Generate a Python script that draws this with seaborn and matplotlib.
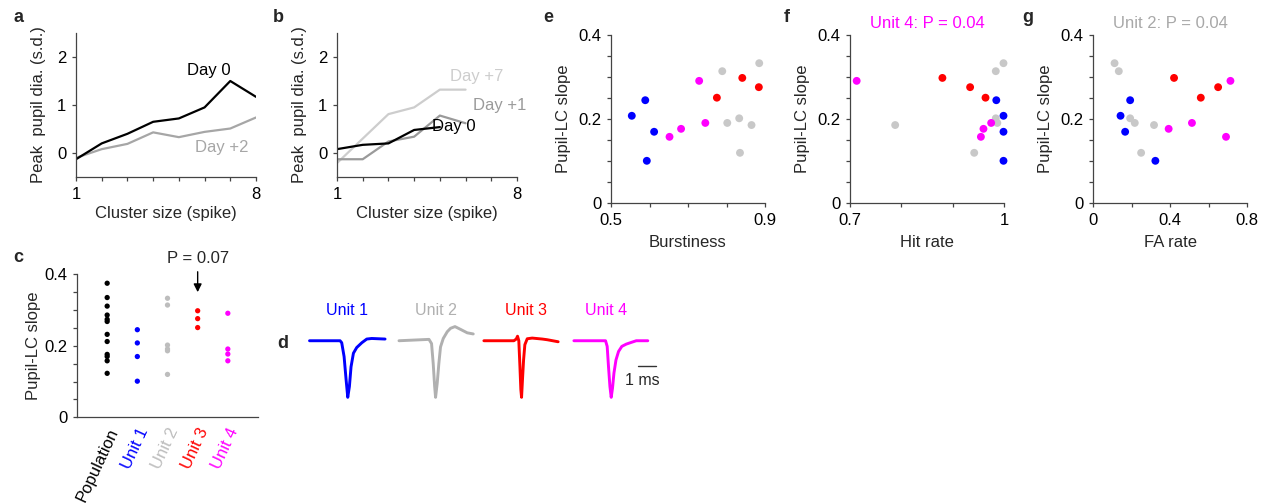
import numpy as np
import pandas as pd
import matplotlib
matplotlib.use('Agg')
import matplotlib.pyplot as plt
import seaborn as sns

sns.set_style('ticks')
plt.rcParams['font.family'] = ['Liberation Sans', 'DejaVu Sans']
plt.rcParams['font.size'] = 12
plt.rcParams['axes.edgecolor'] = '#444444'
plt.rcParams['xtick.color'] = '#444444'
plt.rcParams['ytick.color'] = '#444444'
plt.rcParams['xtick.labelcolor'] = 'black'
plt.rcParams['ytick.labelcolor'] = 'black'

# ---------------- data ----------------
# panel a
a_cluster = [1, 2, 3, 4, 5, 6, 7, 8]
a_day0 = [-0.13, 0.20, 0.40, 0.65, 0.72, 0.95, 1.50, 1.17]
a_day2 = [-0.10, 0.08, 0.19, 0.43, 0.33, 0.44, 0.51, 0.74]
# panel b
b_cluster_day0 = [1, 2, 3, 4, 5]
b_day0 = [0.08, 0.17, 0.20, 0.48, 0.54]
b_cluster = [1, 2, 3, 4, 5, 6]
b_day1 = [-0.13, -0.13, 0.24, 0.34, 0.78, 0.62]
b_day7 = [-0.21, 0.30, 0.81, 0.95, 1.32, 1.32]

# panel c
units = ['Unit 1', 'Unit 2', 'Unit 3', 'Unit 4']
unit_colors = ['#0000FF', '#BDBDBD', '#FF0000', '#FF00FF']
population_slope = [0.375, 0.335, 0.311, 0.286, 0.274, 0.268, 0.232, 0.212,
                    0.176, 0.170, 0.158, 0.123]
unit1_slope = [0.245, 0.208, 0.170, 0.101]
unit2_slope = [0.333, 0.314, 0.202, 0.191, 0.186, 0.120]
unit3_slope = [0.298, 0.276, 0.251]
unit4_slope = [0.291, 0.191, 0.177, 0.158]

# panels e, f, g (same order as slopes)
unit1_burst = [0.589, 0.554, 0.612, 0.593]
unit2_burst = [0.885, 0.789, 0.833, 0.802, 0.865, 0.835]
unit3_burst = [0.841, 0.884, 0.775]
unit4_burst = [0.729, 0.745, 0.682, 0.652]

unit1_hit = [0.985, 0.999, 0.999, 0.999]
unit2_hit = [0.999, 0.984, 0.984, 0.987, 0.788, 0.942]
unit3_hit = [0.880, 0.934, 0.964]
unit4_hit = [0.713, 0.975, 0.960, 0.955]

unit1_fa = [0.193, 0.143, 0.167, 0.324]
unit2_fa = [0.112, 0.134, 0.193, 0.217, 0.317, 0.250]
unit3_fa = [0.421, 0.650, 0.560]
unit4_fa = [0.714, 0.514, 0.393, 0.691]

# panel d waveforms (time ms rel. trough, normalized amplitude)
wf1_t = [-2.09, -0.42, -0.33, -0.20, -0.09, 0.00, 0.09, 0.18, 0.31, 0.49, 0.77, 1.04, 1.31, 2.04]
wf1_a = [0.00, 0.00, -0.035, -0.28, -0.69, -1.00, -0.81, -0.46, -0.22, -0.12, -0.035, 0.03, 0.04, 0.03]
wf2_t = [-2.00, -0.36, -0.22, -0.13, -0.05, 0.00, 0.09, 0.18, 0.27, 0.42, 0.64, 0.82, 1.06, 1.37, 1.73, 2.06]
wf2_a = [0.00, 0.024, -0.05, -0.40, -0.81, -1.00, -0.75, -0.40, -0.11, 0.04, 0.16, 0.22, 0.25, 0.20, 0.14, 0.12]
wf3_t = [-2.06, -0.42, -0.29, -0.22, -0.15, -0.09, -0.04, 0.00, 0.05, 0.11, 0.18, 0.31, 0.58, 1.13, 1.40, 2.00]
wf3_a = [0.00, 0.00, 0.03, 0.08, 0.00, -0.45, -0.86, -1.00, -0.69, -0.34, -0.07, 0.035, 0.047, 0.03, 0.018, -0.018]
wf4_t = [-2.04, -0.31, -0.22, -0.15, -0.07, 0.00, 0.07, 0.15, 0.26, 0.40, 0.58, 0.82, 1.09, 1.37, 2.00]
wf4_a = [0.00, 0.00, -0.10, -0.45, -0.81, -1.00, -0.84, -0.57, -0.34, -0.19, -0.10, -0.06, -0.03, 0.00, 0.00]

# ---------------- figure ----------------
W, H = 1266, 503
fig = plt.figure(figsize=(W / 100, H / 100), dpi=100)


def px_axes(l, r, t, b):
    return fig.add_axes([l / W, 1 - b / H, (r - l) / W, (b - t) / H])


def style(ax):
    sns.despine(ax=ax)
    for s in ['left', 'bottom']:
        ax.spines[s].set_linewidth(0.9)
    ax.tick_params(length=3, width=0.9, pad=4, labelsize=12)
    ax.tick_params(which='minor', length=3, width=0.9)


GRAY_D2 = '#A6A6A6'
GRAY_D1 = '#9A9A9A'
GRAY_D7 = '#CDCDCD'

# panel a
ax_a = px_axes(76, 256, 33, 177)
sns.lineplot(x=a_cluster, y=a_day2, ax=ax_a, color=GRAY_D2, lw=1.6)
sns.lineplot(x=a_cluster, y=a_day0, ax=ax_a, color='black', lw=1.6)
ax_a.text(5.32, 1.72, 'Day 0', color='black', va='center', ha='left', fontsize=12)
ax_a.text(5.63, 0.12, 'Day +2', color=GRAY_D2, va='center', ha='left', fontsize=12)

# panel b
ax_b = px_axes(337, 517, 33, 177)
sns.lineplot(x=b_cluster, y=b_day7, ax=ax_b, color=GRAY_D7, lw=1.6)
sns.lineplot(x=b_cluster, y=b_day1, ax=ax_b, color=GRAY_D1, lw=1.6)
sns.lineplot(x=b_cluster_day0, y=b_day0, ax=ax_b, color='black', lw=1.6)
ax_b.text(5.40, 1.60, 'Day +7', color=GRAY_D7, va='center', ha='left', fontsize=12)
ax_b.text(6.29, 0.98, 'Day +1', color=GRAY_D1, va='center', ha='left', fontsize=12)
ax_b.text(4.70, 0.56, 'Day 0', color='black', va='center', ha='left', fontsize=12)

for ax in (ax_a, ax_b):
    style(ax)
    ax.set_xlim(1, 8)
    ax.set_ylim(-0.5, 2.5)
    ax.set_xticks(a_cluster)
    ax.set_xticklabels(['1', '', '', '', '', '', '', '8'])
    ax.set_yticks([0, 1, 2])
    ax.set_yticklabels(['0', '1', '2'])
    ax.set_xlabel('Cluster size (spike)', fontsize=12, labelpad=3)
    ax.set_ylabel('Peak  pupil dia. (s.d.)', fontsize=12, labelpad=8)

# panel c
ax_c = px_axes(77, 258, 274.3, 417.3)
cats = ['Population'] + units
df_c = pd.DataFrame({
    'group': (['Population'] * len(population_slope) + ['Unit 1'] * len(unit1_slope)
              + ['Unit 2'] * len(unit2_slope) + ['Unit 3'] * len(unit3_slope)
              + ['Unit 4'] * len(unit4_slope)),
    'slope': population_slope + unit1_slope + unit2_slope + unit3_slope + unit4_slope,
})
pal_c = dict(zip(cats, ['black'] + unit_colors))
sns.stripplot(data=df_c, x='group', y='slope', hue='group', order=cats, palette=pal_c,
              jitter=False, size=3.8, ax=ax_c, legend=False, linewidth=0)
style(ax_c)
ax_c.set_xlim(-1, 5)
ax_c.set_ylim(0, 0.4)
ax_c.set_yticks([0, 0.2, 0.4])
ax_c.set_yticklabels(['0', '0.2', '0.4'])
ax_c.set_yticks(np.arange(0, 0.401, 0.05), minor=True)
ax_c.set_xticks(range(5))
ax_c.set_xticklabels(cats, rotation=65, ha='right', rotation_mode='anchor')
ax_c.tick_params(axis='x', length=0, pad=6)
for lab, col in zip(ax_c.get_xticklabels(), ['black'] + unit_colors):
    lab.set_color(col)
ax_c.set_xlabel('')
ax_c.set_ylabel('Pupil-LC slope', fontsize=12, labelpad=2)
ax_c.annotate('P = 0.07', xy=(3, 0.35), xytext=(3, 0.445), ha='center', va='center',
              fontsize=12, annotation_clip=False,
              arrowprops=dict(arrowstyle='-|>', color='black', lw=1.0,
                              mutation_scale=12, shrinkA=2, shrinkB=0))

# panel d
ax_d = px_axes(300, 665, 300, 410)
offsets = [0.0, 4.8, 9.5, 14.4]
wfs = [(wf1_t, wf1_a), (wf2_t, wf2_a), (wf3_t, wf3_a), (wf4_t, wf4_a)]
wf_colors = ['#0000FF', '#B0B0B0', '#FF0000', '#FF00FF']
label_x = [-0.05, 4.8, 9.75, 14.1]
for (t, a), off, col, u, lx in zip(wfs, offsets, wf_colors, units, label_x):
    sns.lineplot(x=np.array(t) + off, y=a, ax=ax_d, color=col, lw=2.1, sort=False)
    ax_d.text(lx, 0.54, u, color=col, ha='center', va='center', fontsize=11.5)
ax_d.plot([15.86, 16.86], [-0.44, -0.44], color='#333333', lw=1.0)
ax_d.text(16.1, -0.71, '1 ms', ha='center', va='center', fontsize=11.5)
ax_d.set_xlim(-2.61, 17.34)
ax_d.set_ylim(-1.224, 0.72)
ax_d.axis('off')

# panels e, f, g
df_s = pd.DataFrame({
    'unit': (['Unit 1'] * 4 + ['Unit 2'] * 6 + ['Unit 3'] * 3 + ['Unit 4'] * 4),
    'slope': unit1_slope + unit2_slope + unit3_slope + unit4_slope,
    'burst': unit1_burst + unit2_burst + unit3_burst + unit4_burst,
    'hit': unit1_hit + unit2_hit + unit3_hit + unit4_hit,
    'fa': unit1_fa + unit2_fa + unit3_fa + unit4_fa,
})
pal_s = dict(zip(units, ['#0000FF', '#C8C8C8', '#FF0000', '#FF00FF']))

specs = [
    (611, 765, 'burst', 'Burstiness', (0.5, 0.9), np.arange(0.5, 0.901, 0.1), ['0.5', '', '', '', '0.9'], None, None),
    (850, 1004, 'hit', 'Hit rate', (0.7, 1.0), np.arange(0.7, 1.001, 0.1), ['0.7', '', '', '1'], 'Unit 4: P = 0.04', '#FF00FF'),
    (1093, 1247, 'fa', 'FA rate', (0, 0.8), np.arange(0, 0.801, 0.2), ['0', '', '0.4', '', '0.8'], 'Unit 2: P = 0.04', '#A8A8A8'),
]
for l, r, col, xl, xlim, xt, xtl, title, tcol in specs:
    ax = px_axes(l, r, 35, 203.3)
    sns.scatterplot(data=df_s, x=col, y='slope', hue='unit', palette=pal_s, ax=ax,
                    s=32, linewidth=0, legend=False, clip_on=False)
    style(ax)
    ax.set_xlim(*xlim)
    ax.set_ylim(0, 0.4)
    ax.set_xticks(xt)
    ax.set_xticklabels(xtl)
    ax.set_yticks([0, 0.2, 0.4])
    ax.set_yticklabels(['0', '0.2', '0.4'])
    ax.set_yticks(np.arange(0, 0.401, 0.05), minor=True)
    ax.set_xlabel(xl, fontsize=12, labelpad=5)
    ax.set_ylabel('Pupil-LC slope', fontsize=12, labelpad=5)
    if title:
        ax.set_title(title, color=tcol, fontsize=12, pad=5)

# panel letters
for letter, x, y in [('a', 18, 17), ('b', 278, 17), ('c', 18, 257), ('d', 283, 343),
                     ('e', 548, 17), ('f', 787, 17), ('g', 1028, 18)]:
    fig.text(x / W, 1 - y / H, letter, fontsize=13, fontweight='bold', ha='center', va='center')

fig.savefig('out.png', dpi=100)
